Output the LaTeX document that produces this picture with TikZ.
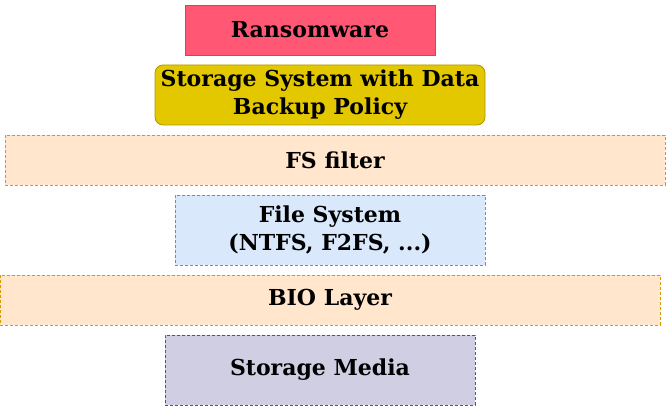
\documentclass[tikz,border=0pt]{standalone}
\usepackage{fontspec}
\setmainfont{DejaVu Serif}
\definecolor{ransomfill}{HTML}{FF5774}
\definecolor{ransomline}{HTML}{B85450}
\definecolor{backupfill}{HTML}{E3C800}
\definecolor{backupline}{HTML}{B09500}
\definecolor{orangefill}{HTML}{FFE6CC}
\definecolor{orangeline}{HTML}{D79B00}
\definecolor{bluefill}{HTML}{DAE8FC}
\definecolor{blueline}{HTML}{6C8EBF}
\definecolor{purplefill}{HTML}{D0CEE2}
\definecolor{purpleline}{HTML}{56517E}
\tikzset{
  layer/.style={draw, line width=0.8pt, inner sep=0pt, align=center,
    font=\fontsize{22}{28}\selectfont\bfseries},
  dashedlayer/.style={layer, dash pattern=on 3pt off 2pt}
}
\begin{document}
\begin{tikzpicture}[x=1pt,y=-1pt]
      \useasboundingbox (0,0) rectangle (666,406);
      \draw
        (310,30) node[layer, fill=ransomfill, draw=ransomline,
          minimum width=250pt, minimum height=50pt] (ransom){Ransomware}
        (320,95) node[layer, fill=backupfill, draw=backupline, rounded corners=8pt,
          minimum width=330pt, minimum height=60pt] (backup){Storage System with Data\\Backup Policy}
        (335,160) node[dashedlayer, fill=orangefill, draw=orangeline,
          minimum width=660pt, minimum height=50pt] (fsfilter){FS filter}
        (330,230) node[dashedlayer, fill=bluefill, draw=blueline,
          minimum width=310pt, minimum height=70pt] (fs){File System\\(NTFS, F2FS, ...)}
        (330,300) node[dashedlayer, fill=orangefill, draw=orangeline,
          minimum width=660pt, minimum height=50pt] (bio){BIO Layer}
        (320,370) node[dashedlayer, fill=purplefill, draw=purpleline,
          minimum width=310pt, minimum height=70pt] (media){Storage Media};
    \end{tikzpicture}
\end{document}
